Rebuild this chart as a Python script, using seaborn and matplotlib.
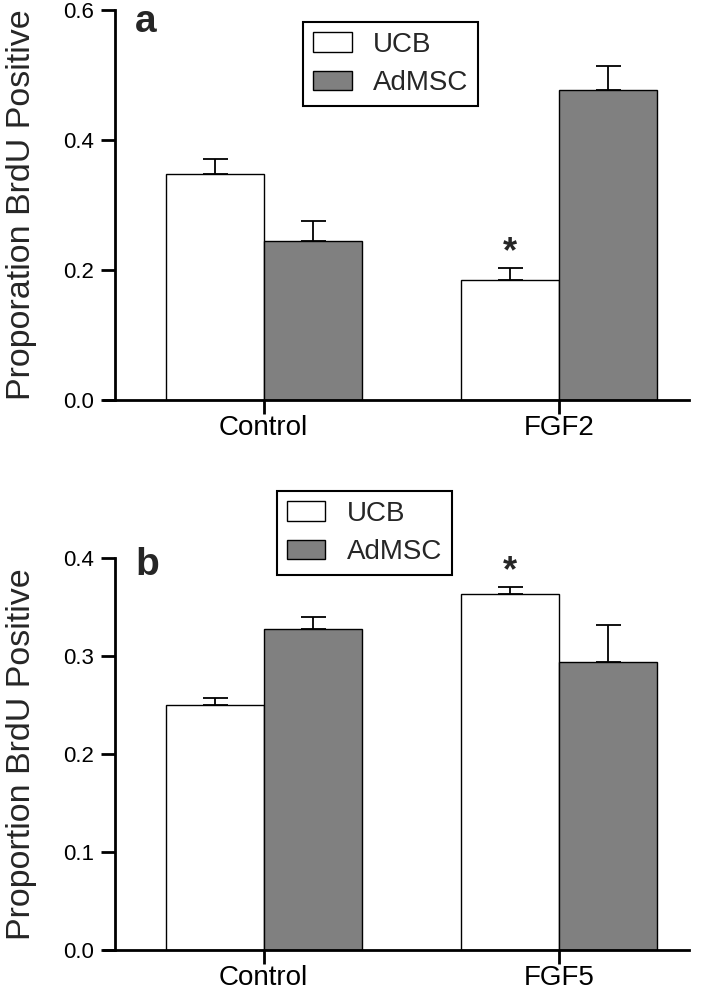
import numpy as np
import pandas as pd
import seaborn as sns
import matplotlib.pyplot as plt
from matplotlib.patches import Patch

# panel a
groups_a = ["Control", "FGF2"]
ucb_a = [0.347, 0.184]
ucb_a_err = [0.023, 0.019]
adm_a = [0.245, 0.477]
adm_a_err = [0.0295, 0.0365]

# panel b
groups_b = ["Control", "FGF5"]
ucb_b = [0.250, 0.363]
ucb_b_err = [0.007, 0.0075]
adm_b = [0.328, 0.2945]
adm_b_err = [0.012, 0.037]

cells = ["UCB", "AdMSC"]
colors = {"UCB": "white", "AdMSC": "#808080"}

sns.set_theme(style="ticks")
plt.rcParams["font.family"] = ["Liberation Sans", "DejaVu Sans"]


def make_df(groups, ucb, ucb_err, adm, adm_err):
    rows = []
    for g, v, e in zip(groups, ucb, ucb_err):
        rows.append({"group": g, "cell": "UCB", "value": v, "err": e})
    for g, v, e in zip(groups, adm, adm_err):
        rows.append({"group": g, "cell": "AdMSC", "value": v, "err": e})
    return pd.DataFrame(rows)


def draw(ax, df, ymax, step, ylabel, letter, letter_y, star_group):
    sns.barplot(data=df, x="group", y="value", hue="cell", hue_order=cells,
                palette=colors, width=0.664, edgecolor="black", linewidth=1.0,
                errorbar=None, legend=False, ax=ax, zorder=2)
    # error bars, upward only
    xs, ys, es = [], [], []
    for p in ax.patches:
        h = p.get_height()
        row = df.loc[np.isclose(df["value"], h)].iloc[0]
        xs.append(p.get_x() + p.get_width() / 2)
        ys.append(h)
        es.append(row["err"])
    ax.errorbar(xs, ys, yerr=[np.zeros(len(es)), es], fmt="none",
                ecolor="black", elinewidth=1.3, capsize=9, capthick=1.3,
                zorder=1)

    ticks = np.arange(0, ymax + 1e-9, step)
    ax.set_xlim(-0.541, 1.439)
    ax.set_ylim(0, ymax)
    ax.set_yticks(ticks)
    ax.set_yticklabels([f"{t:.1f}" for t in ticks])
    ax.spines["left"].set_position(("data", -0.504))
    for s in ["left", "bottom"]:
        ax.spines[s].set_linewidth(2.0)
        ax.spines[s].set_color("black")
    sns.despine(ax=ax)
    ax.tick_params(axis="both", width=2.0, length=10, color="black",
                   labelcolor="black")
    ax.tick_params(axis="y", labelsize=16, pad=5)
    ax.tick_params(axis="x", labelsize=20, pad=1)
    ax.set_xlabel("")
    ax.set_ylabel(ylabel, fontsize=24.5, labelpad=19)
    ax.text(0.053, letter_y, letter, transform=ax.transAxes, fontsize=28,
            fontweight="bold", va="baseline", ha="left")

    # significance star above the UCB bar of the treated group
    i = df.index[(df["group"] == star_group) & (df["cell"] == "UCB")][0]
    v = df.loc[i, "value"] + df.loc[i, "err"]
    sx = [x for x, y in zip(xs, ys) if np.isclose(y, df.loc[i, "value"])][0]
    ax.annotate("*", xy=(sx, v), xytext=(0, 4), textcoords="offset points",
                ha="center", va="baseline", fontsize=26, fontweight="bold")


fig = plt.figure(figsize=(7.08, 9.9), dpi=100)
ax_a = fig.add_axes([0.1469, 0.596, 0.8256, 0.3944])
ax_b = fig.add_axes([0.1469, 0.0404, 0.8256, 0.3957])

df_a = make_df(groups_a, ucb_a, ucb_a_err, adm_a, adm_a_err)
df_b = make_df(groups_b, ucb_b, ucb_b_err, adm_b, adm_b_err)

draw(ax_a, df_a, 0.6, 0.2, "Proporation BrdU Positive", "a", 0.943, "FGF2")
draw(ax_b, df_b, 0.4, 0.1, "Proportion BrdU Positive", "b", 0.957, "FGF5")

handles = [Patch(facecolor=colors[c], edgecolor="black", linewidth=1.0, label=c)
           for c in cells]
for anchor in [(0.428, 0.978), (0.391, 0.5043)]:
    leg = fig.legend(handles=handles, loc="upper left", bbox_to_anchor=anchor,
                     fontsize=20, frameon=True, fancybox=False,
                     edgecolor="black", framealpha=1, handlelength=1.39,
                     handleheight=0.705, handletextpad=0.77, labelspacing=0.45,
                     borderpad=0.36, borderaxespad=0)
    leg.get_frame().set_linewidth(1.5)

fig.savefig("out.png", dpi=100)
